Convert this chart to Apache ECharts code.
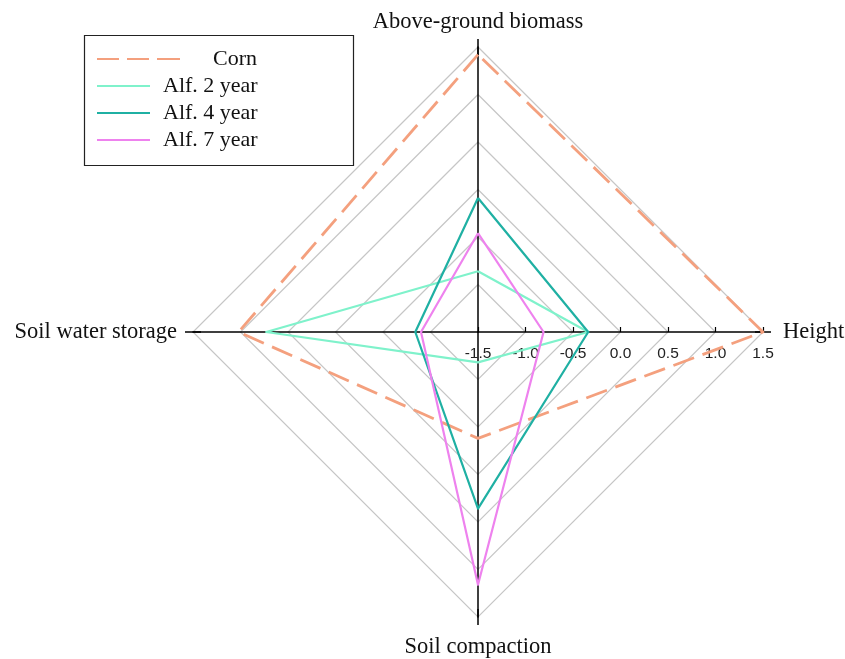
<!DOCTYPE html>
<html><head><meta charset="utf-8">
<script src="https://cdn.jsdelivr.net/npm/echarts@6/dist/echarts.min.js"></script>
<style>html,body{margin:0;padding:0;background:#fff}#c{width:845px;height:659px}</style>
</head><body><div id="c"></div>
<script>
// indicators in ECharts (counter-clockwise) order, starting at top
const indicators = ['Above-ground biomass', 'Soil water storage', 'Soil compaction', 'Height'];
const seriesNames = ['Corn', 'Alf. 2 year', 'Alf. 4 year', 'Alf. 7 year'];
const corn    = [1.42, 1.02, -0.38, 1.50];
const alf2    = [-0.86, 0.73, -1.18, -0.34];
const alf4    = [-0.09, -0.84, 0.36, -0.34];
const alf7    = [-0.46, -0.90, 1.16, -0.81];
const axisMin = -1.5, axisMax = 1.5;
const tickLabels = ['-1.5', '-1.0', '-0.5', '0.0', '0.5', '1.0', '1.5'];

const values = [corn, alf2, alf4, alf7];
const colors = ['#F4A07E', '#7FF2CB', '#1FB0A3', '#EE82EE'];
const serif = '"Liberation Serif", "Times New Roman", serif';
const nameGaps = { 'Above-ground biomass': 13, 'Soil water storage': 16, 'Soil compaction': 19, 'Height': 20 };

const chart = echarts.init(document.getElementById('c'));
chart.setOption({
  animation: false,
  backgroundColor: '#fff',
  graphic: [{
    type: 'rect', left: 82, top: 33,
    shape: { width: 269, height: 130 },
    style: { fill: 'none', stroke: '#222', lineWidth: 1.2 }
  }],
  legend: [{
    orient: 'vertical', left: 97, top: 48, padding: 0,
    data: [{ name: seriesNames[0], icon: 'path://M0,0h22v2h-22z M30,0h22v2h-22z M60,0h23v2h-23z' }],
    itemWidth: 83, itemHeight: 2.5,
    textStyle: { fontFamily: serif, fontSize: 22, lineHeight: 18, color: '#111', padding: [0, 0, 0, 28] }
  }, {
    orient: 'vertical', left: 97, top: 75, padding: 0, itemGap: 5,
    data: seriesNames.slice(1).map(n => ({ name: n, icon: 'rect' })),
    itemWidth: 53, itemHeight: 2,
    textStyle: { fontFamily: serif, fontSize: 22, lineHeight: 18, color: '#111', padding: [0, 0, 0, 8] }
  }],
  radar: {
    center: [478, 332],
    radius: 285,
    startAngle: 90,
    shape: 'polygon',
    splitNumber: 6,
    axisName: { color: '#111', fontFamily: serif, fontSize: 22.5 },
    nameGap: 17,
    indicator: indicators.map(n => {
      const ind = { name: n, min: axisMin, max: axisMax, nameGap: nameGaps[n] };
      if (n === 'Height') {
        ind.axisLabel = {
          show: true, fontFamily: '"Liberation Sans", Arial, sans-serif', fontSize: 15.5, color: '#222',
          margin: -14, verticalAlign: 'top',
          formatter: v => tickLabels[Math.round((v - axisMin) / 0.5)]
        };
        ind.axisTick = { show: true, length: 5, lineStyle: { color: '#000', width: 1.2 } };
      }
      return ind;
    }),
    axisLabel: { show: false },
    axisTick: { show: false },
    axisLine: {
      symbol: ['none', 'rect'], symbolSize: [1.5, 16],
      lineStyle: { color: '#000', width: 1.5 }
    },
    splitLine: { lineStyle: { color: '#c6c6c6', width: 1.2 } },
    splitArea: { show: false }
  },
  series: [{
    type: 'radar',
    symbol: 'none',
    data: values.map((v, i) => ({
      name: seriesNames[i],
      value: v,
      lineStyle: { color: colors[i], width: i === 0 ? 2.8 : 2.2, type: i === 0 ? [22, 9] : 'solid' },
      itemStyle: { color: colors[i] }
    }))
  }]
});
</script></body></html>
